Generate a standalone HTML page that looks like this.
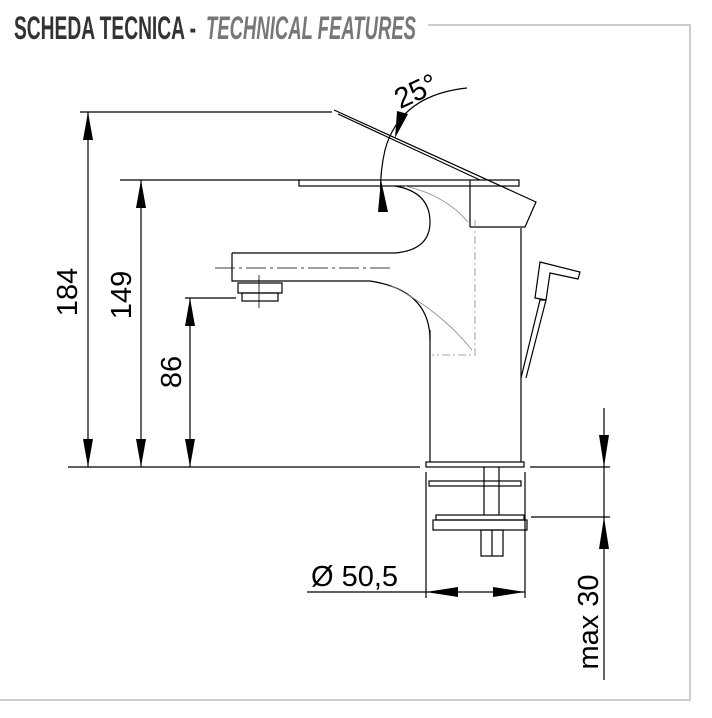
<!DOCTYPE html>
<html><head><style>
body{margin:0;background:#fff;width:712px;height:718px;overflow:hidden}
svg{display:block}
</style></head><body>
<svg width="712" height="718" viewBox="0 0 712 718" xmlns="http://www.w3.org/2000/svg" font-family="Liberation Sans, sans-serif">
<!-- frame -->
<polyline points="428,25 690,25 690,700 0,700" fill="none" stroke="#ccc" stroke-width="2"/>
<text x="14" y="39" font-size="32" font-weight="bold" fill="#333" textLength="182" lengthAdjust="spacingAndGlyphs">SCHEDA TECNICA -</text>
<text x="206" y="39" font-size="32" font-weight="bold" font-style="italic" fill="#777" textLength="210" lengthAdjust="spacingAndGlyphs">TECHNICAL FEATURES</text>
<g stroke="#000" fill="none" stroke-width="1.2">
<line x1="80" y1="112" x2="332" y2="112"/>
<line x1="120" y1="180" x2="300" y2="180"/>
<line x1="185" y1="298" x2="236" y2="298"/>
<line x1="68" y1="467" x2="420" y2="467"/>
<line x1="88" y1="112" x2="88" y2="467"/>
<line x1="141" y1="180" x2="141" y2="467"/>
<line x1="190" y1="298" x2="190" y2="467"/>
<line x1="430" y1="330" x2="430" y2="462"/>
<line x1="521" y1="228" x2="521" y2="462"/>
<rect x="299" y="180" width="220" height="6"/>
<polyline points="334,110 536,202 525,227 470,227"/>
<line x1="338" y1="114" x2="480" y2="180"/>
<line x1="470" y1="180" x2="470" y2="227"/>
<path d="M232,253 L395,253 Q430,250 430,222 Q430,192 395,186"/>
<path d="M232,253 L232,281 L370,281 Q430,290 430,340"/>
<line x1="215" y1="268" x2="390" y2="268" stroke-dasharray="20,4,3,4" stroke-width="0.8"/>
<rect x="238" y="283" width="44" height="10"/>
<rect x="242" y="293" width="36" height="8"/>
<line x1="259" y1="275" x2="259" y2="308" stroke-width="0.8"/>
<path d="M475,220 L475,355 L432,355" stroke="#888" stroke-dasharray="8,3,2,3" stroke-width="0.8"/>
<path d="M390,285 Q440,310 472,350" stroke="#888" stroke-width="0.8"/>
<path d="M405,186 Q445,195 468,222" stroke="#888" stroke-width="0.8"/>
<polyline points="521,378 540,300 546,300 526,378"/>
<polygon points="540,262 580,272 578,279 550,273 546,300 535,298"/>
<rect x="426" y="462" width="98" height="5"/>
<rect x="429" y="481" width="92" height="5"/>
<line x1="484" y1="467" x2="484" y2="515"/>
<line x1="499" y1="467" x2="499" y2="515"/>
<rect x="436" y="515" width="88" height="5"/>
<rect x="433" y="520" width="94" height="10"/>
<rect x="481" y="530" width="22" height="26"/>
<line x1="492" y1="530" x2="492" y2="556"/>
<line x1="426" y1="472" x2="426" y2="598"/>
<line x1="525" y1="472" x2="525" y2="598"/>
<line x1="307" y1="592" x2="525" y2="592"/>
<line x1="530" y1="467" x2="610" y2="467"/>
<line x1="531" y1="517" x2="610" y2="517"/>
<line x1="604" y1="408" x2="604" y2="680"/>
<path d="M467,88 Q400,95 385,150 Q378,180 382,212"/>
</g>
<g fill="#000">
<polygon points="88,112 83,140 93,140"/><polygon points="88,467 83,439 93,439"/>
<polygon points="141,180 136,208 146,208"/><polygon points="141,467 136,439 146,439"/>
<polygon points="190,298 185,326 195,326"/><polygon points="190,467 185,439 195,439"/>
<polygon points="426,592 458,587 458,597"/><polygon points="525,592 493,587 493,597"/>
<polygon points="604,467 599,435 609,435"/><polygon points="604,517 599,549 609,549"/>
<polygon points="395,138 408,114 397,111"/>
<polygon points="381,180 378,212 388,212"/>
</g>
<g font-size="29" fill="#000">
<text transform="translate(77,292) rotate(-90)" text-anchor="middle">184</text>
<text transform="translate(131,295) rotate(-90)" text-anchor="middle">149</text>
<text transform="translate(181,372) rotate(-90)" text-anchor="middle">86</text>
<text transform="translate(598,622) rotate(-90)" text-anchor="middle">max 30</text>
<text x="311" y="586">Ø 50,5</text>
<text transform="translate(420,100) rotate(-25)" text-anchor="middle">25°</text>
</g>
</svg>
</body></html>
